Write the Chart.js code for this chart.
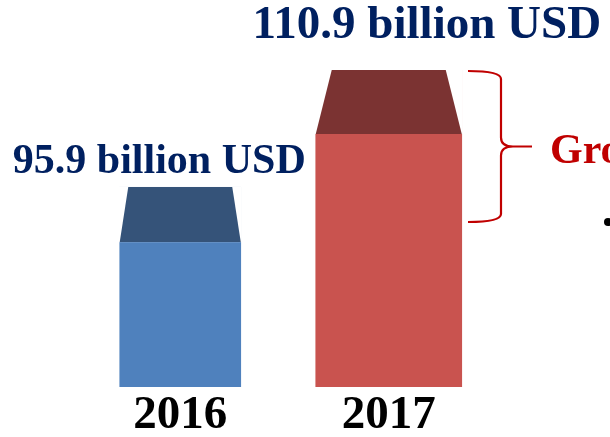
<!DOCTYPE html>
<html>
<head>
<meta charset="utf-8">
<script src="https://cdn.jsdelivr.net/npm/chart.js@4/dist/chart.umd.min.js"></script>
<style>
  html, body { margin: 0; padding: 0; background: #fff; }
  #wrap { width: 610px; height: 437px; position: relative; }
</style>
</head>
<body>
<div id="wrap"><canvas id="revChart"></canvas></div>
<script>
// data
const years = ['2016', '2017'];
const revenue = [95.9, 110.9];
const valueLabels = ['95.9 billion USD', '110.9 billion USD'];
const sideLabel = 'Growth';

// look of each bar (body colour, top colour, width, top depth, top inset)
const bodyColors = ['#4f81bd', '#c9534f'];
const topColors = ['#355379', '#7b3332'];
const barWidths = [121, 146];
const topDepth = [55, 64];
const topInset = [8.5, 16];
const labelOffsets = [{ dx: -21, dy: -14, size: 42 }, { dx: 38, dy: -32, size: 47 }];

const serif = "'Liberation Serif', 'Times New Roman', serif";

// one dataset per year so each bar can have its own width
const datasets = years.map((y, i) => ({
  label: y,
  data: years.map((_, j) => (j === i ? revenue[j] : null)),
  backgroundColor: bodyColors[i],
  borderWidth: 0,
  barThickness: barWidths[i],
  grouped: false,
  skipNull: true
}));

const boxTops = {
  id: 'boxTops',
  afterDatasetsDraw(chart) {
    const ctx = chart.ctx;
    ctx.save();
    chart.data.datasets.forEach((ds, i) => {
      const meta = chart.getDatasetMeta(i);
      meta.data.forEach((bar, j) => {
        if (ds.data[j] == null) return;
        const p = bar.getProps(['x', 'y', 'width'], true);
        const l = p.x - p.width / 2, r = p.x + p.width / 2;
        const d = topDepth[i], ins = topInset[i];
        ctx.fillStyle = '#ffffff';
        ctx.fillRect(l - 1, p.y - 1, p.width + 2, d + 1);
        ctx.fillStyle = topColors[i];
        ctx.beginPath();
        ctx.moveTo(l + ins, p.y);
        ctx.lineTo(r - ins, p.y);
        ctx.lineTo(r, p.y + d);
        ctx.lineTo(l, p.y + d);
        ctx.closePath();
        ctx.fill();

        // value label above the box
        const o = labelOffsets[i];
        ctx.fillStyle = '#002060';
        ctx.font = 'bold ' + o.size + 'px ' + serif;
        ctx.textAlign = 'center';
        ctx.textBaseline = 'alphabetic';
        ctx.fillText(valueLabels[i], p.x + o.dx, p.y + o.dy);
      });
    });
    ctx.restore();
  },
  afterDraw(chart) {
    // growth bracket next to the 2017 box
    const ctx = chart.ctx;
    const bar = chart.getDatasetMeta(1).data[1];
    const top = bar.y + 1;
    const bottom = 222;
    const mid = (top + bottom) / 2;
    const x0 = 468, x1 = 501, tip = 532;
    ctx.save();
    ctx.strokeStyle = '#c00000';
    ctx.lineWidth = 2.2;
    ctx.lineJoin = 'round';
    ctx.beginPath();
    ctx.moveTo(x0, top);
    ctx.quadraticCurveTo(x1, top, x1, top + 8);
    ctx.lineTo(x1, mid - 9);
    ctx.quadraticCurveTo(x1, mid, x1 + 12, mid);
    ctx.lineTo(tip, mid);
    ctx.moveTo(x1 + 12, mid);
    ctx.quadraticCurveTo(x1, mid, x1, mid + 9);
    ctx.lineTo(x1, bottom - 8);
    ctx.quadraticCurveTo(x1, bottom, x0, bottom);
    ctx.stroke();

    ctx.fillStyle = '#c00000';
    ctx.font = 'bold 42px ' + serif;
    ctx.textAlign = 'left';
    ctx.textBaseline = 'alphabetic';
    ctx.fillText(sideLabel, 550, 163);

    ctx.fillStyle = '#000000';
    ctx.beginPath();
    ctx.arc(608, 222, 4, 0, Math.PI * 2);
    ctx.fill();
    ctx.restore();
  }
};

new Chart(document.getElementById('revChart'), {
  type: 'bar',
  data: { labels: years, datasets: datasets },
  options: {
    responsive: true,
    maintainAspectRatio: false,
    animation: false,
    layout: { padding: { left: 76, right: 117, top: 70, bottom: 0 } },
    plugins: { legend: { display: false }, tooltip: { enabled: false } },
    scales: {
      x: {
        grid: { display: false, drawTicks: false },
        border: { display: false },
        afterFit(scale) { scale.height = 50; },
        ticks: {
          color: '#000000',
          padding: 1,
          font: { family: serif, size: 47, weight: 'bold' }
        }
      },
      y: {
        display: false,
        min: 70.3,
        max: 110.9
      }
    }
  },
  plugins: [boxTops]
});
</script>
</body>
</html>
